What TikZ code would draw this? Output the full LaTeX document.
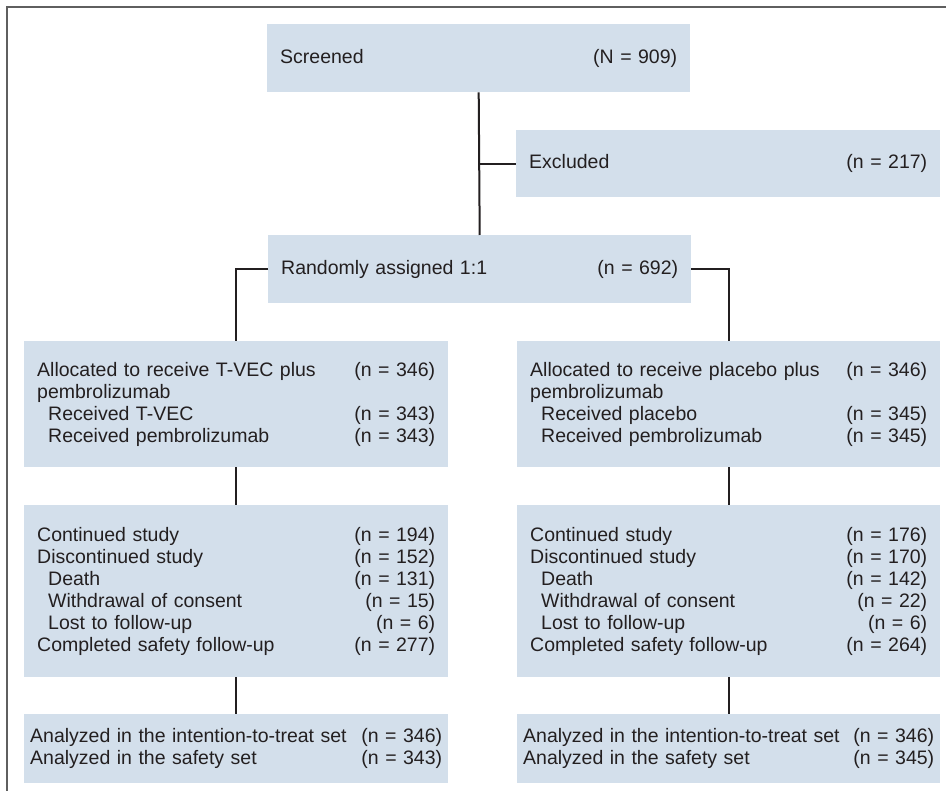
\documentclass[tikz,border=0pt]{standalone}
\usepackage{fontspec}
\setmainfont{Liberation Sans}
\definecolor{flowfill}{RGB}{211,223,235}
\definecolor{framegray}{RGB}{95,95,95}
\definecolor{inkgray}{RGB}{35,31,32}
\usetikzlibrary{positioning, calc}

\begin{document}
\begin{tikzpicture}[x=1pt, y=-1pt,
  fbox/.style={fill=flowfill, anchor=north west, inner xsep=13pt, inner ysep=0pt, align=left, text=inkgray, font=\fontsize{19.5}{22}\selectfont},
  link/.style={draw=inkgray, line width=2pt}
]
  \useasboundingbox (0,0) rectangle (946,791);
  \draw[framegray, line width=1.2pt] (7,791) -- (7,7) -- (946,7);

  \node[fbox, text width=397pt, minimum height=68pt] (scr) at (267,24) {Screened\hfill(N = 909)};
  \node[fbox, text width=398pt, minimum height=67pt] (exc) at (516,130) {Excluded\hfill(n = 217)};
  \node[fbox, text width=397pt, minimum height=68pt] (rand) at (268,235) {Randomly assigned 1:1\hfill(n = 692)};

  \node[fbox, text width=398pt, minimum height=126pt] (alL) at (24,341) {Allocated to receive T-VEC plus\hfill(n = 346)\\pembrolizumab\\\hspace*{11pt}Received T-VEC\hfill(n = 343)\\\hspace*{11pt}Received pembrolizumab\hfill(n = 343)};
  \node[fbox, text width=397pt, minimum height=126pt] (alR) at (517,341) {Allocated to receive placebo plus\hfill(n = 346)\\pembrolizumab\\\hspace*{11pt}Received placebo\hfill(n = 345)\\\hspace*{11pt}Received pembrolizumab\hfill(n = 345)};

  \node[fbox, text width=398pt, minimum height=172pt] (coL) at (24,505) {Continued study\hfill(n = 194)\\Discontinued study\hfill(n = 152)\\\hspace*{11pt}Death\hfill(n = 131)\\\hspace*{11pt}Withdrawal of consent\hfill(n = 15)\\\hspace*{11pt}Lost to follow-up\hfill(n = 6)\\Completed safety follow-up\hfill(n = 277)};
  \node[fbox, text width=397pt, minimum height=172pt] (coR) at (517,505) {Continued study\hfill(n = 176)\\Discontinued study\hfill(n = 170)\\\hspace*{11pt}Death\hfill(n = 142)\\\hspace*{11pt}Withdrawal of consent\hfill(n = 22)\\\hspace*{11pt}Lost to follow-up\hfill(n = 6)\\Completed safety follow-up\hfill(n = 264)};

  \node[fbox, inner xsep=6pt, text width=412pt, minimum height=69pt] (anL) at (24,714) {Analyzed in the intention-to-treat set\hfill(n = 346)\\Analyzed in the safety set\hfill(n = 343)};
  \node[fbox, inner xsep=6pt, text width=411pt, minimum height=69pt] (anR) at (517,714) {Analyzed in the intention-to-treat set\hfill(n = 346)\\Analyzed in the safety set\hfill(n = 345)};

  % connectors
  \draw[link] (scr.south) -- (rand.north);
  \draw[link] (scr.south |- exc.west) -- (exc.west);
  \draw[link] (rand.west) -| (alL.north);
  \draw[link] (rand.east) -| (alR.north);
  \draw[link] (alL) -- (coL);
  \draw[link] (alR) -- (coR);
  \draw[link] (coL) -- (anL);
  \draw[link] (coR) -- (anR);
\end{tikzpicture}
\end{document}
